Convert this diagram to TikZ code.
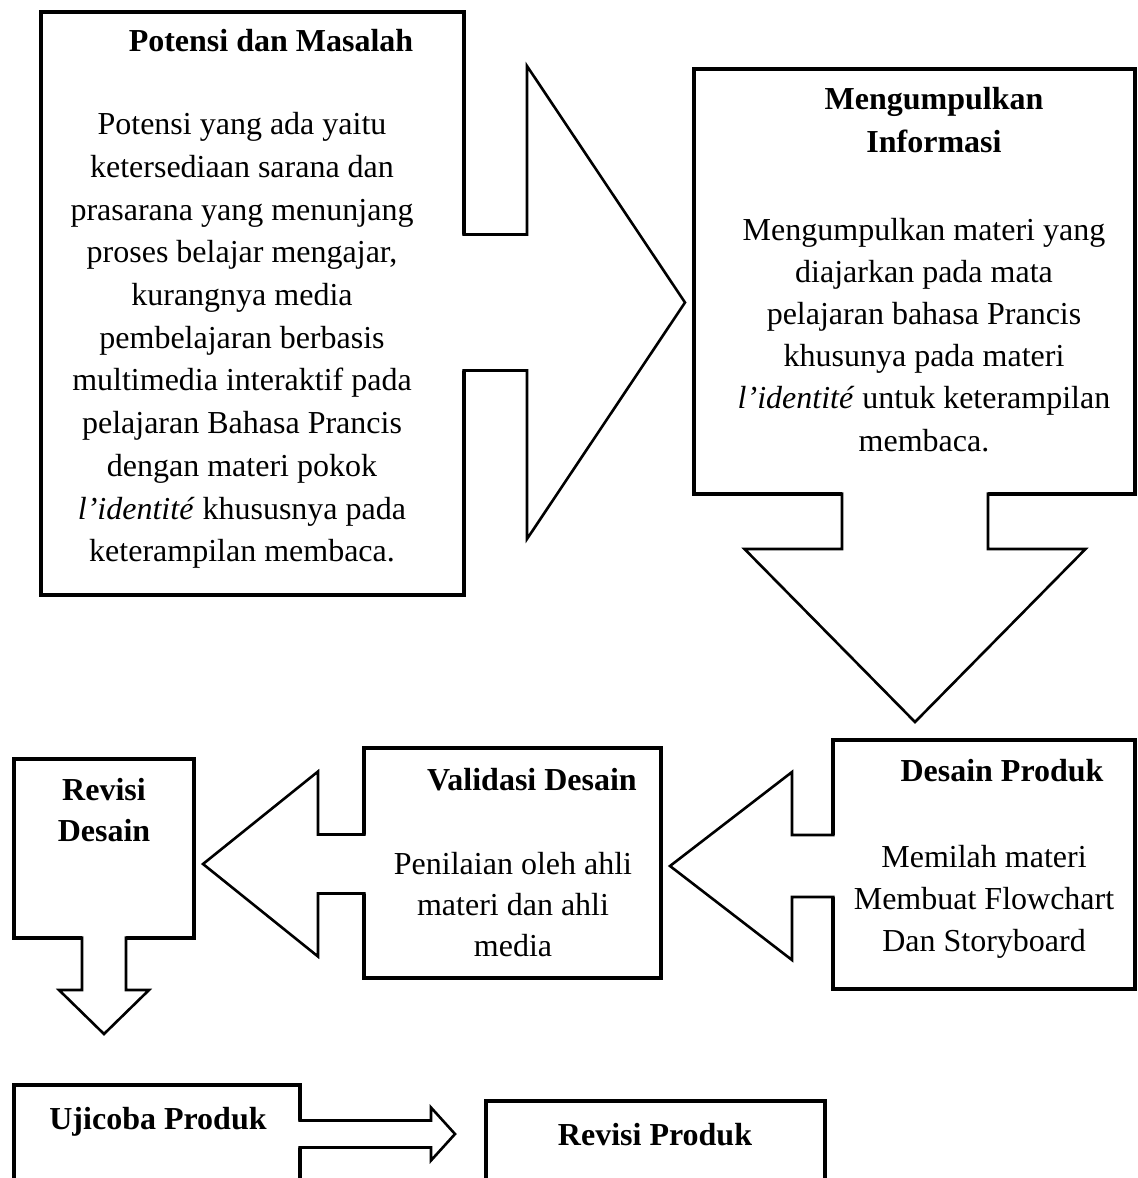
\documentclass[tikz,border=0pt]{standalone}
\usepackage{fontspec}
\setmainfont{Liberation Serif}

% Block arrow, drawn in its own frame and turned into place.
% #1 tail point (on the edge of the box it leaves), #2 direction angle,
% #3 tail-to-tip length, #4 head length, #5 shaft half width,
% #6 head half width, #7 how far the white fill reaches back into the box
\newcommand\blockarrow[7]{%
  \begin{scope}[shift={(#1)}, rotate=#2]
    \fill[white] (-#7,-#5) -- ({#3-#4},-#5) -- ({#3-#4},-#6) -- (#3,0)
      -- ({#3-#4},#6) -- ({#3-#4},#5) -- (-#7,#5) -- cycle;
    \draw[arrowline] (-1.6,-#5) -- ({#3-#4},-#5) -- ({#3-#4},-#6) -- (#3,0)
      -- ({#3-#4},#6) -- ({#3-#4},#5) -- (-1.6,#5);
  \end{scope}}

\begin{document}
\begin{tikzpicture}[x=0.5pt, y=-0.5pt,
  box/.style={draw=black, line width=1.6pt, fill=white, outer sep=0pt,
    inner sep=0pt, anchor=north west},
  arrowline/.style={draw=black, line width=1.3pt, line join=miter},
  txt/.style={anchor=base, inner sep=0pt, font=\fontsize{16}{20}\selectfont},
  hd/.style={anchor=base, inner sep=0pt, font=\fontsize{16}{20}\selectfont\bfseries}]

\useasboundingbox (0,0) rectangle (1137,1178);
\fill[white] (0,0) rectangle (1137,1178);
\clip (0,0) rectangle (1137,1178);

% ---- boxes ----
\node[box, minimum width=211.5pt, minimum height=291.5pt] (pm) at (41,12) {};
\node[box, minimum width=220.5pt, minimum height=212.5pt] (mi) at (694,69) {};
\node[box, minimum width=151pt,   minimum height=124.5pt] (dp) at (833,740) {};
\node[box, minimum width=148.5pt, minimum height=115pt]   (vd) at (364,748) {};
\node[box, minimum width=90pt,    minimum height=89.5pt]  (rd) at (14,759) {};
\node[box, minimum width=143pt,   minimum height=70pt]    (up) at (14,1085) {};
\node[box, minimum width=169.5pt, minimum height=70pt]    (rp) at (486,1101) {};

% ---- tails of the block arrows ----
\coordinate (t1) at (pm.east |- 0,302.5);
\coordinate (t2) at (mi.south -| 915,0);
\coordinate (t3) at (dp.west |- 0,866);
\coordinate (t4) at (vd.west |- 0,864);
\coordinate (t5) at (rd.south -| 104,0);
\coordinate (t6) at (up.east |- 0,1134);

% ---- block arrows ----
\blockarrow{t1}{0}{221}{158}{68}{236.5}{5}
\blockarrow{t2}{-90}{228}{173}{73}{170.5}{5}
\blockarrow{t3}{180}{163}{122}{31}{94}{5}
\blockarrow{t4}{180}{161}{115}{29.5}{92.5}{5}
\blockarrow{t5}{-90}{96}{44}{22}{45}{5}
\blockarrow{t6}{0}{155}{24}{13.5}{26.5}{5}

% ---- Potensi dan Masalah ----
\node[hd] (pm-h) at (271,51) {Potensi dan Masalah};
\foreach \ln [count=\i] in {Potensi yang ada yaitu, ketersediaan sarana dan,
  prasarana yang menunjang, {proses belajar mengajar,}, kurangnya media,
  pembelajaran berbasis, multimedia interaktif pada, pelajaran Bahasa Prancis,
  dengan materi pokok, {\textit{l’identité} khususnya pada}, keterampilan membaca.}
  \node[txt] (pm-\i) at (242,{134.6+42.73*(\i-1)}) {\ln};

% ---- Mengumpulkan Informasi ----
\node[hd] (mi-h1) at (934,109.5) {Mengumpulkan};
\node[hd] (mi-h2) at (934,152) {Informasi};
\foreach \ln [count=\i] in {Mengumpulkan materi yang, diajarkan pada mata,
  pelajaran bahasa Prancis, khusunya pada materi,
  {\textit{l’identité} untuk keterampilan}, membaca.}
  \node[txt] (mi-\i) at (924,{240+42.2*(\i-1)}) {\ln};

% ---- Desain Produk ----
\node[hd] (dp-h) at (1002,781) {Desain Produk};
\foreach \ln [count=\i] in {Memilah materi, Membuat Flowchart, Dan Storyboard}
  \node[txt] (dp-\i) at (984,{867+42*(\i-1)}) {\ln};

% ---- Validasi Desain ----
\node[hd] (vd-h) at (532,790) {Validasi Desain};
\foreach \ln [count=\i] in {Penilaian oleh ahli, materi dan ahli, media}
  \node[txt] (vd-\i) at (513,{874+41*(\i-1)}) {\ln};

% ---- Revisi Desain ----
\node[hd] (rd-h1) at (104,800) {Revisi};
\node[hd] (rd-h2) at (104,841) {Desain};

% ---- Ujicoba Produk / Revisi Produk ----
\node[hd] (up-h) at (158,1129) {Ujicoba Produk};
\node[hd] (rp-h) at (655,1145) {Revisi Produk};

\end{tikzpicture}
\end{document}
